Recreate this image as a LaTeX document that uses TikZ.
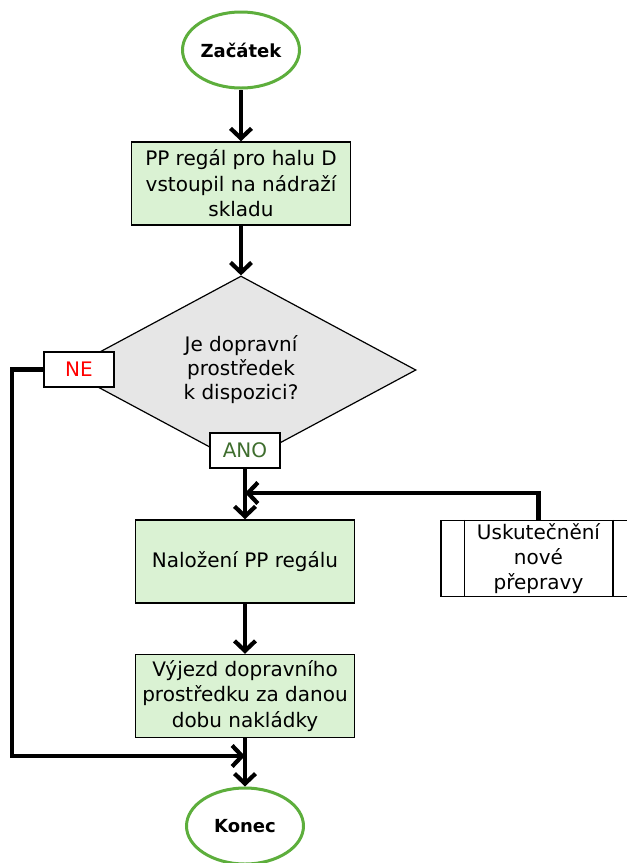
\documentclass[tikz,border=0pt]{standalone}
\usepackage{fontspec}
\setmainfont{DejaVu Sans}
\usetikzlibrary{arrows.meta,shapes.geometric}
\definecolor{termGreen}{HTML}{5DAE3C}
\definecolor{procGreen}{HTML}{DAF2D3}
\definecolor{decGrey}{HTML}{E6E6E6}
\definecolor{anoGreen}{HTML}{3F6E2E}
\definecolor{neRed}{HTML}{FF0000}
\tikzset{
  termnode/.style={ellipse, draw=termGreen, fill=white, line width=3pt, font=\fontsize{18}{22}\selectfont\bfseries, minimum width=117pt, minimum height=76pt, inner sep=0pt},
  procbox/.style={rectangle, draw=black, fill=procGreen, line width=1.5pt, align=center, font=\fontsize{20}{25.5}\selectfont, minimum width=219pt, minimum height=83pt, inner sep=0pt},
  decnode/.style={diamond, aspect=1.86, draw=black, fill=decGrey, line width=1.2pt, align=center, font=\fontsize{20}{24}\selectfont, minimum width=350pt, minimum height=188pt, inner sep=0pt},
  tagbox/.style={rectangle, draw=black, fill=white, line width=1.5pt, font=\fontsize{20}{24}\selectfont, text=#1, minimum width=70pt, minimum height=35pt, inner sep=0pt},
  subbox/.style={rectangle, draw=black, fill=white, line width=1.5pt, align=center, font=\fontsize{20}{25}\selectfont, minimum width=195pt, minimum height=76pt, inner sep=0pt},
  flowline/.style={line width=4.2pt, draw=black},
  flowarrow/.style={flowline, -{Straight Barb[length=10pt,width=21pt]}},
}

\begin{document}
\begin{tikzpicture}[x=1pt,y=-1pt]
  \useasboundingbox (0,0) rectangle (627,863);
  % --- nodes ---
  \node[termnode] (start) at (241,50) {Začátek};
  \node[procbox] (arrive) at (241,183.5) {PP regál pro halu D\\vstoupil na nádraží\\skladu};
  \node[decnode] (avail) at (241,370) {Je dopravní\\prostředek\\k dispozici?};
  \node[tagbox=neRed] (ne) at (79,369.5) {NE};
  \node[tagbox=anoGreen] (ano) at (245,450.5) {ANO};
  \node[procbox] (load) at (245,561.5) {Naložení PP regálu};
  \node[subbox] (newtrip) at (538.5,558.5) {Uskutečnění\\nové\\přepravy};
  \draw[line width=1.5pt] ([xshift=24pt]newtrip.north west) -- ([xshift=24pt]newtrip.south west);
  \draw[line width=1.5pt] ([xshift=-24pt]newtrip.north east) -- ([xshift=-24pt]newtrip.south east);
  \node[procbox] (depart) at (245,696) {Výjezd dopravního\\prostředku za danou\\dobu nakládky};
  \node[termnode] (stop) at (245,826) {Konec};
  % --- joins ---
  \coordinate (loopjoin) at (245,493);
  \coordinate (neleft) at (12,369.5);
  \coordinate (nejoin) at (245,756);
  % --- connectors ---
  \draw[flowarrow] (start) -- (arrive);
  \draw[flowarrow] (arrive) -- (avail.north);
  \draw[flowarrow] (ano) -- (load);
  \draw[flowarrow] (newtrip.north) |- (loopjoin);
  \draw[flowarrow] (load) -- (depart);
  \draw[flowarrow] (depart) -- (stop);
  \draw[flowarrow] (ne.west) -- (neleft) |- (nejoin);
\end{tikzpicture}
\end{document}
